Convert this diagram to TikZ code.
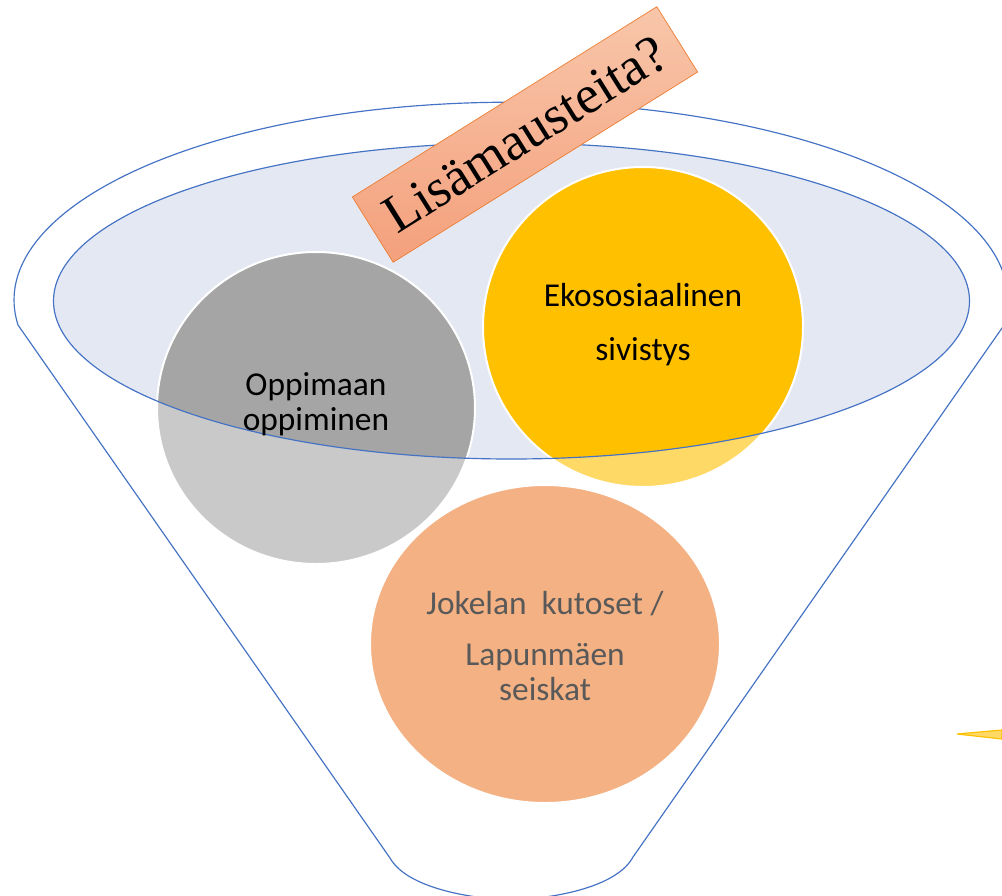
\documentclass[tikz,border=0pt]{standalone}
\usepackage{fontspec}
\setmainfont{Carlito}
\newfontfamily\boxserif{Liberation Serif}
\usepackage{tikz}
\usetikzlibrary{positioning}
\definecolor{rimblue}{HTML}{4472C4}
\definecolor{rimfill}{HTML}{E4E8F3}
\definecolor{grayDark}{HTML}{A5A5A5}
\definecolor{grayLight}{HTML}{C9C9C9}
\definecolor{yellowDark}{HTML}{FFC000}
\definecolor{yellowLight}{HTML}{FFD966}
\definecolor{salmon}{HTML}{F4B183}
\definecolor{boxorange}{HTML}{ED7D31}
\definecolor{boxtop}{HTML}{F8C6AA}
\definecolor{boxbottom}{HTML}{F4A07C}
\definecolor{textgray}{HTML}{595959}

\begin{document}
\begin{tikzpicture}[x=0.03cm,y=-0.03cm,
	funnel/.style={draw=rimblue, line width=1pt},
	rim/.style={x radius=458, y radius=158},
	bubbletext/.style={align=center, font=\fontsize{28.5}{30}\selectfont}]
	\useasboundingbox (0,0) rectangle (1002,896);
	% funnel outline
	\draw[funnel] (390,858) -- (18,325) arc[start angle=172.8, end angle=367.2, x radius=497, y radius=198] -- (633,857) .. controls (618,885) and (562,898) .. (511,900) .. controls (460,898) and (405,885) .. (390,858);
	\fill[rimfill] (511.5,301) ellipse[rim];
	% circles
	\fill[grayLight] (316,408) ellipse[x radius=159, y radius=156];
	\fill[yellowLight] (643,327) circle[radius=160];
	\fill[salmon] (545,644) ellipse[x radius=175, y radius=159];
	\begin{scope}
		\clip (511.5,301) ellipse[rim];
		\fill[grayDark] (316,408) ellipse[x radius=159, y radius=156];
		\fill[yellowDark] (643,327) circle[radius=160];
	\end{scope}
	\draw[white, line width=1.7pt] (316,408) ellipse[x radius=159, y radius=156];
	\draw[white, line width=1.7pt] (643,327) circle[radius=160];
	\draw[white, line width=1.7pt] (545,644) ellipse[x radius=175, y radius=159];
	\draw[funnel] (511.5,301) ellipse[rim];
	% tilted label
	\node (spice) at (525,134.5) [rotate=32, draw=boxorange, line width=0.6pt, top color=boxtop, bottom color=boxbottom, minimum width=10.77cm, minimum height=2.31cm, font=\boxserif\fontsize{46}{46}\selectfont] {Lisämausteita?};
	\node (oppi) at (316,404) [bubbletext] {Oppimaan\\oppiminen};
	\node (eko) at (643,325) [bubbletext] {Ekososiaalinen\\[16pt]sivistys};
	\node (koulu) at (545,646) [bubbletext, text=textgray] {Jokelan\hspace{0.45em}kutoset /\\[14pt]Lapunmäen\\seiskat};
	% cut-off shape at the right edge
	\filldraw[fill=yellowLight, draw=yellowDark, line width=1pt] (957,734) -- (1002,730) -- (1002,739) -- cycle;
\end{tikzpicture}
\end{document}
